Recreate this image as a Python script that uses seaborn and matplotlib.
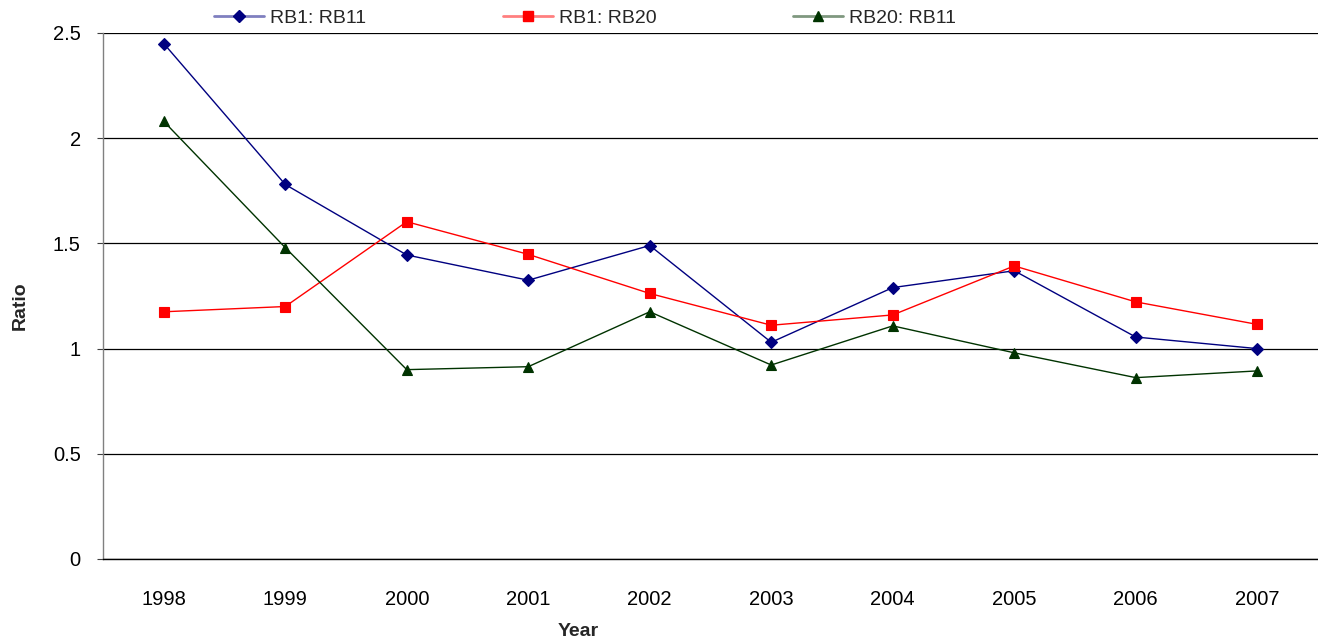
import matplotlib
matplotlib.use("Agg")
import matplotlib.pyplot as plt
from matplotlib.lines import Line2D
from matplotlib.ticker import FixedLocator
import numpy as np
import pandas as pd
import seaborn as sns

# Yearly ratios between the three groups
years = ["1998", "1999", "2000", "2001", "2002", "2003", "2004", "2005", "2006", "2007"]
rb1_rb11 = [2.45, 1.78, 1.445, 1.325, 1.49, 1.03, 1.29, 1.37, 1.055, 1.0]
rb1_rb20 = [1.175, 1.20, 1.603, 1.448, 1.262, 1.111, 1.16, 1.393, 1.222, 1.115]
rb20_rb11 = [2.08, 1.48, 0.90, 0.914, 1.175, 0.922, 1.108, 0.98, 0.862, 0.894]

series_names = ["RB1: RB11", "RB1: RB20", "RB20: RB11"]
series_values = [rb1_rb11, rb1_rb20, rb20_rb11]
colors = ["#000080", "#FF0000", "#003300"]
markers = ["D", "s", "^"]
marker_sizes = [6.5, 7.5, 7.5]

df = pd.DataFrame(
    [(y, v, name) for name, vals in zip(series_names, series_values) for y, v in zip(years, vals)],
    columns=["Year", "Ratio", "Series"],
)

sns.set_style("white")
plt.rcParams["font.family"] = ["Liberation Sans", "DejaVu Sans"]

W, H = 1318, 643
fig = plt.figure(figsize=(W / 100, H / 100), dpi=100)
ax = fig.add_axes([103 / W, (H - 559) / H, (W - 103) / W, 526 / H])

for name, col, mk, ms in zip(series_names, colors, markers, marker_sizes):
    sns.pointplot(
        data=df[df["Series"] == name], x="Year", y="Ratio", order=years,
        color=col, markers=mk, linestyles="-", errorbar=None,
        linewidth=1.0, markersize=ms, ax=ax, legend=False,
    )
# keep markers crisp with matching edges
for ln in ax.lines:
    ln.set_markeredgewidth(0.8)

ax.set_xlim(-0.5, len(years) - 0.5)
ax.set_ylim(0, 2.5)
ax.set_yticks(np.arange(0, 2.51, 0.5))
ax.set_yticklabels(["0", "0.5", "1", "1.5", "2", "2.5"])
ax.yaxis.grid(True, color="black", linewidth=0.9)
ax.xaxis.grid(False)
ax.set_axisbelow(True)

for s in ["top", "right"]:
    ax.spines[s].set_visible(False)
ax.spines["left"].set_color("#808080")
ax.spines["left"].set_linewidth(1.0)
ax.spines["bottom"].set_color("black")
ax.spines["bottom"].set_linewidth(1.0)

# category labels centred, tick marks between categories
ax.tick_params(axis="x", which="major", length=0, pad=22, labelsize=14.5, labelcolor="black")
ax.xaxis.set_minor_locator(FixedLocator(np.arange(-0.5, len(years), 1.0)))
ax.tick_params(axis="x", which="minor", direction="out", length=4.5, width=0.8, color="#404040")
ax.tick_params(axis="y", which="major", direction="out", length=4, width=0.8, color="#404040",
               pad=12, labelsize=14.5, labelcolor="black", left=True)

ax.set_xlabel("")
ax.set_ylabel("")
fig.text(20 / W, 1 - 306 / H, "Ratio", rotation=90, ha="center", va="center",
         fontsize=14, fontweight="bold")
fig.text(578 / W, 1 - 631 / H, "Year", ha="center", va="center",
         fontsize=14, fontweight="bold")

# legend: pale line with solid marker on top
handles = []
for col, mk, ms in zip(colors, markers, marker_sizes):
    line_h = Line2D([], [], color=col, linewidth=2.0, alpha=0.5)
    mark_h = Line2D([], [], color=col, marker=mk, markersize=ms, linestyle="none")
    handles.append((line_h, mark_h))
fig.legend(handles, series_names, loc="center", bbox_to_anchor=(585 / W, 1 - 18 / H),
           ncol=3, frameon=False, fontsize=14, handlelength=2.6, handletextpad=0.3,
           columnspacing=7.0, borderpad=0)

fig.savefig("out.png", dpi=100)
